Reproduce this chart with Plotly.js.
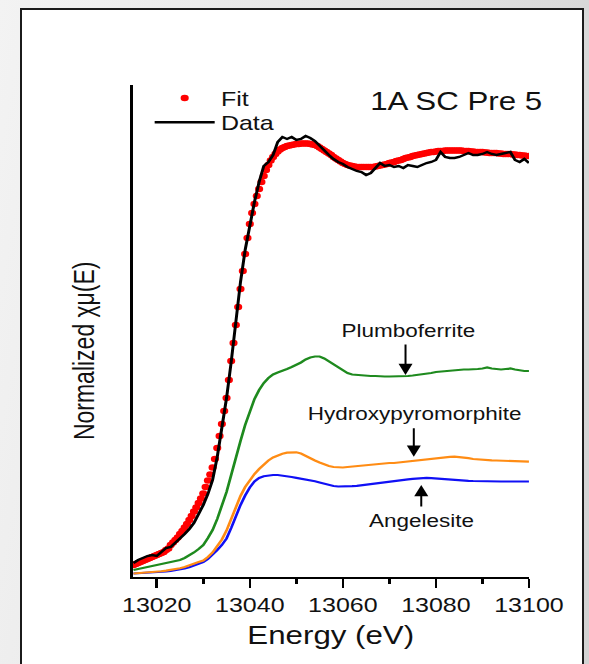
<!DOCTYPE html>
<html>
<head>
<meta charset="utf-8">
<script src="https://cdn.plot.ly/plotly-3.0.1.min.js"></script>
<style>
html,body{margin:0;padding:0;}
body{width:589px;height:664px;overflow:hidden;position:relative;
 background:linear-gradient(100deg,#f3f3f3 0%,#e2e2e2 60%,#d2d2d2 100%);}
#frame{position:absolute;left:20px;top:8px;width:560px;height:720px;border:2px solid #1b1b1b;background:#ffffff;}
#wrap{position:absolute;left:0;top:0;width:471px;height:664px;transform:scaleX(1.2505);transform-origin:0 0;}
#plot{width:471px;height:664px;}
</style>
</head>
<body>
<div id="frame"></div>
<div id="wrap"><div id="plot"></div></div>
<script>
// Energy grid (eV) for measured data and reference components
const energy = [
13015,13016,13017,13018,13019,13020,13021,13022,13023,13024,
13025,13026,13027,13028,13029,13030,13031,13032,13033,13034,
13035,13036,13037,13038,13039,13040,13041,13042,13043,13044,
13045,13046,13047,13048,13049,13050,13051,13052,13053,13054,
13055,13056,13057,13058,13059,13060,13061,13062,13063,13064,
13065,13066,13067,13068,13069,13070,13071,13072,13073,13074,
13075,13076,13077,13078,13079,13080,13081,13082,13083,13084,
13085,13086,13087,13088,13089,13090,13091,13092,13093,13094,
13095,13096,13097,13098,13099,13100];

const dataMu = [
0.035,0.0425,0.0475,0.0525,0.055,0.0525,0.0625,0.0725,0.075,0.085,
0.0975,0.1075,0.12,0.135,0.1575,0.18,0.2075,0.2425,0.30,0.3725,
0.4475,0.5375,0.6425,0.7375,0.8175,0.8825,0.9375,0.9875,1.0275,1.0375,
1.055,1.0875,1.10,1.095,1.10,1.0925,1.095,1.1025,1.0975,1.09,
1.0775,1.065,1.055,1.045,1.0375,1.0325,1.025,1.02,1.015,1.0125,
1.005,1.01,1.0225,1.035,1.0275,1.03,1.025,1.0275,1.0225,1.03,
1.0275,1.025,1.03,1.035,1.0375,1.0425,1.0625,1.05,1.0475,1.0475,
1.05,1.055,1.06,1.055,1.055,1.0575,1.0625,1.0575,1.055,1.0575,
1.06,1.0625,1.0425,1.0375,1.045,1.035];

const plumboferrite = [
0.0175,0.02,0.0225,0.025,0.0263,0.0288,0.0313,0.0338,0.0363,0.0388,
0.0425,0.0475,0.0538,0.0613,0.07,0.08,0.0975,0.1175,0.145,0.1775,
0.2125,0.255,0.30,0.34,0.38,0.415,0.445,0.4675,0.485,0.4975,
0.5063,0.5113,0.515,0.52,0.525,0.53,0.5363,0.5438,0.5488,0.5513,
0.5513,0.5463,0.5388,0.5313,0.5238,0.5163,0.51,0.5063,0.505,0.5038,
0.5025,0.5025,0.5025,0.5013,0.5013,0.5013,0.5013,0.5013,0.5013,0.5025,
0.5038,0.505,0.5063,0.5088,0.51,0.5125,0.5138,0.515,0.5163,0.5175,
0.5188,0.5188,0.5188,0.5188,0.52,0.5213,0.5238,0.5213,0.52,0.5188,
0.52,0.5213,0.5188,0.5163,0.515,0.515];

const hydroxypyromorphite = [
0.0088,0.0095,0.01,0.011,0.012,0.013,0.0143,0.0158,0.0175,0.0195,
0.022,0.025,0.0285,0.0325,0.0375,0.0413,0.05,0.0613,0.0763,0.0938,
0.1163,0.145,0.175,0.2025,0.225,0.2425,0.2575,0.27,0.2813,0.2913,
0.2988,0.3043,0.3083,0.311,0.3123,0.3118,0.3088,0.3025,0.2975,0.2913,
0.2863,0.2813,0.2775,0.275,0.2738,0.2738,0.275,0.2763,0.2775,0.2788,
0.28,0.2813,0.2825,0.2838,0.2838,0.285,0.285,0.2863,0.2875,0.2888,
0.29,0.2913,0.2925,0.295,0.2963,0.2975,0.2988,0.3,0.3005,0.3008,
0.3,0.2988,0.297,0.295,0.2938,0.2925,0.292,0.2915,0.2913,0.291,
0.2908,0.2905,0.29,0.2895,0.2888,0.2883];

const angelesite = [
0.0088,0.0093,0.0098,0.0103,0.011,0.0118,0.0125,0.0138,0.015,0.0168,
0.0188,0.0213,0.0245,0.0285,0.0338,0.0375,0.045,0.055,0.0675,0.08,
0.0963,0.1225,0.1525,0.18,0.2038,0.2238,0.2388,0.2475,0.2518,0.2543,
0.255,0.255,0.2538,0.252,0.25,0.248,0.2463,0.2443,0.242,0.2393,
0.2363,0.233,0.23,0.2275,0.2263,0.226,0.2263,0.227,0.228,0.2293,
0.2305,0.232,0.2335,0.235,0.2365,0.238,0.2395,0.241,0.2425,0.244,
0.2455,0.2468,0.2475,0.2478,0.247,0.246,0.245,0.2443,0.2435,0.2428,
0.242,0.2413,0.2405,0.24,0.2395,0.239,0.2388,0.2388,0.2388,0.2388,
0.2388,0.2388,0.2388,0.2388,0.2388,0.2388];

// Linear-combination fit, sampled every 0.5 eV
const fitEnergy = [
13015,13015.5,13016,13016.5,13017,13017.5,13018,13018.5,13019,13019.5,
13020,13020.5,13021,13021.5,13022,13022.5,13023,13023.5,13024,13024.5,
13025,13025.5,13026,13026.5,13027,13027.5,13028,13028.5,13029,13029.5,
13030,13030.5,13031,13031.5,13032,13032.5,13033,13033.5,13034,13034.5,
13035,13035.5,13036,13036.5,13037,13037.5,13038,13038.5,13039,13039.5,
13040,13040.5,13041,13041.5,13042,13042.5,13043,13043.5,13044,13044.5,
13045,13045.5,13046,13046.5,13047,13047.5,13048,13048.5,13049,13049.5,
13050,13050.5,13051,13051.5,13052,13052.5,13053,13053.5,13054,13054.5,
13055,13055.5,13056,13056.5,13057,13057.5,13058,13058.5,13059,13059.5,
13060,13060.5,13061,13061.5,13062,13062.5,13063,13063.5,13064,13064.5,
13065,13065.5,13066,13066.5,13067,13067.5,13068,13068.5,13069,13069.5,
13070,13070.5,13071,13071.5,13072,13072.5,13073,13073.5,13074,13074.5,
13075,13075.5,13076,13076.5,13077,13077.5,13078,13078.5,13079,13079.5,
13080,13080.5,13081,13081.5,13082,13082.5,13083,13083.5,13084,13084.5,
13085,13085.5,13086,13086.5,13087,13087.5,13088,13088.5,13089,13089.5,
13090,13090.5,13091,13091.5,13092,13092.5,13093,13093.5,13094,13094.5,
13095,13095.5,13096,13096.5,13097,13097.5,13098,13098.5,13099,13099.5,
13100];

const fitMu = [
0.03,0.0325,0.035,0.0375,0.04,0.0425,0.045,0.0475,0.05,0.0525,
0.055,0.0575,0.06,0.0625,0.0675,0.0713,0.08,0.0863,0.0925,0.0988,
0.1075,0.115,0.1238,0.1325,0.1425,0.1525,0.1638,0.1738,0.185,0.1963,
0.2088,0.225,0.2413,0.2563,0.2738,0.295,0.3225,0.3525,0.3825,0.415,
0.4475,0.4925,0.54,0.585,0.63,0.675,0.72,0.765,0.8075,0.8475,
0.8825,0.91,0.9325,0.9525,0.97,0.9875,1.0025,1.0175,1.03,1.0413,
1.05,1.0575,1.0638,1.0688,1.0725,1.075,1.0775,1.0788,1.08,1.0813,
1.0825,1.0825,1.0838,1.0838,1.0838,1.0838,1.0825,1.0813,1.08,1.0775,
1.0738,1.07,1.0663,1.0625,1.0588,1.055,1.05,1.0463,1.0425,1.0388,
1.035,1.0325,1.03,1.0288,1.0275,1.0263,1.025,1.025,1.025,1.025,
1.025,1.025,1.025,1.025,1.0263,1.0275,1.0288,1.03,1.0313,1.0325,
1.035,1.0363,1.0375,1.04,1.0413,1.0425,1.045,1.0475,1.0488,1.05,
1.0525,1.0538,1.055,1.0563,1.0575,1.0588,1.06,1.0613,1.0625,1.0625,
1.0638,1.065,1.065,1.065,1.0663,1.0663,1.0663,1.0663,1.0663,1.0663,
1.0663,1.0663,1.065,1.065,1.065,1.0638,1.0638,1.0625,1.0625,1.0625,
1.0625,1.0613,1.0613,1.06,1.06,1.06,1.06,1.0588,1.0588,1.0575,
1.0575,1.0575,1.0575,1.0563,1.0563,1.055,1.055,1.0538,1.0538,1.0525,
1.0525];

const xTickStep = 20;
const sampleLabel = '1A SC Pre 5';

const FONT = 'Liberation Sans, Arial, Helvetica, sans-serif';
const TXT = '#111111';

const traces = [
  {x: energy, y: angelesite, type: 'scatter', mode: 'lines', name: 'Angelesite', showlegend: false,
   line: {color: '#1010f5', width: 2.2}},
  {x: energy, y: hydroxypyromorphite, type: 'scatter', mode: 'lines', name: 'Hydroxypyromorphite', showlegend: false,
   line: {color: '#ff8c14', width: 2.2}},
  {x: energy, y: plumboferrite, type: 'scatter', mode: 'lines', name: 'Plumboferrite', showlegend: false,
   line: {color: '#1e8a1e', width: 2.2}},
  {x: fitEnergy, y: fitMu, type: 'scatter', mode: 'markers', name: 'Fit', legend: 'legend',
   marker: {color: '#ff0000', size: 6.5, line: {width: 0}}},
  {x: energy, y: dataMu, type: 'scatter', mode: 'lines', name: 'Data', legend: 'legend2',
   line: {color: '#000000', width: 2.4}}
];

const legendBase = {x: 0.04, xanchor: 'left', yanchor: 'top', bgcolor: 'rgba(0,0,0,0)',
  font: {size: 20, family: FONT, color: TXT}, itemwidth: 48, tracegroupgap: 0};

const layout = {
  width: 471, height: 664,
  margin: {l: 106, r: 48.4, t: 85, b: 87, pad: 0},
  paper_bgcolor: 'rgba(0,0,0,0)', plot_bgcolor: 'rgba(0,0,0,0)',
  font: {family: FONT, color: TXT},
  showlegend: true,
  legend: Object.assign({}, legendBase, {y: 1.0132}),
  legend2: Object.assign({}, legendBase, {y: 0.964}),
  xaxis: {range: [13014.8, 13100], showline: true, linecolor: '#000', linewidth: 2,
          ticks: 'outside', ticklen: 9, tickwidth: 2, tickcolor: '#000',
          tick0: 13020, dtick: xTickStep, tickformat: 'd',
          tickfont: {size: 20, family: FONT, color: TXT},
          showgrid: false, zeroline: false,
          minor: {dtick: 10, tick0: 13020, ticks: 'outside', ticklen: 5, tickwidth: 2, tickcolor: '#000', showgrid: false},
          title: {text: 'Energy (eV)', font: {size: 25, family: FONT, color: TXT}, standoff: 12}},
  yaxis: {range: [0, 1.23], showline: true, linecolor: '#000', linewidth: 2,
          ticks: '', showticklabels: false, showgrid: false, zeroline: false},
  annotations: [
    {xref: 'paper', yref: 'y', x: -0.1226, y: 0.565, xanchor: 'center', yanchor: 'middle',
     text: 'Normalized χμ(E)', textangle: -90,
     showarrow: false, font: {size: 23, family: FONT, color: TXT}},
    {xref: 'x', yref: 'y', x: 13084.45, y: 1.1888, text: sampleLabel, showarrow: false,
     font: {size: 25, family: FONT, color: TXT}},
    {xref: 'x', yref: 'y', x: 13074.0, y: 0.615, text: 'Plumboferrite', showarrow: false,
     font: {size: 18, family: FONT, color: TXT}},
    {xref: 'x', yref: 'y', x: 13073.47, y: 0.505, text: '', showarrow: true, ax: 0, ay: -32,
     arrowhead: 2, arrowsize: 1.4, arrowwidth: 1.6, arrowcolor: '#000', standoff: 0},
    {xref: 'x', yref: 'y', x: 13075.4, y: 0.4075, text: 'Hydroxypyromorphite', showarrow: false,
     font: {size: 18, family: FONT, color: TXT}},
    {xref: 'x', yref: 'y', x: 13075.25, y: 0.3008, text: '', showarrow: true, ax: 0, ay: -30,
     arrowhead: 2, arrowsize: 1.4, arrowwidth: 1.6, arrowcolor: '#000', standoff: 0},
    {xref: 'x', yref: 'y', x: 13076.9, y: 0.14, text: 'Angelesite', showarrow: false,
     font: {size: 18, family: FONT, color: TXT}},
    {xref: 'x', yref: 'y', x: 13076.85, y: 0.23, text: '', showarrow: true, ax: 0, ay: 23,
     arrowhead: 2, arrowsize: 1.4, arrowwidth: 1.6, arrowcolor: '#000', standoff: 0}
  ]
};

Plotly.newPlot('plot', traces, layout, {displayModeBar: false, staticPlot: true});
</script>
</body>
</html>
